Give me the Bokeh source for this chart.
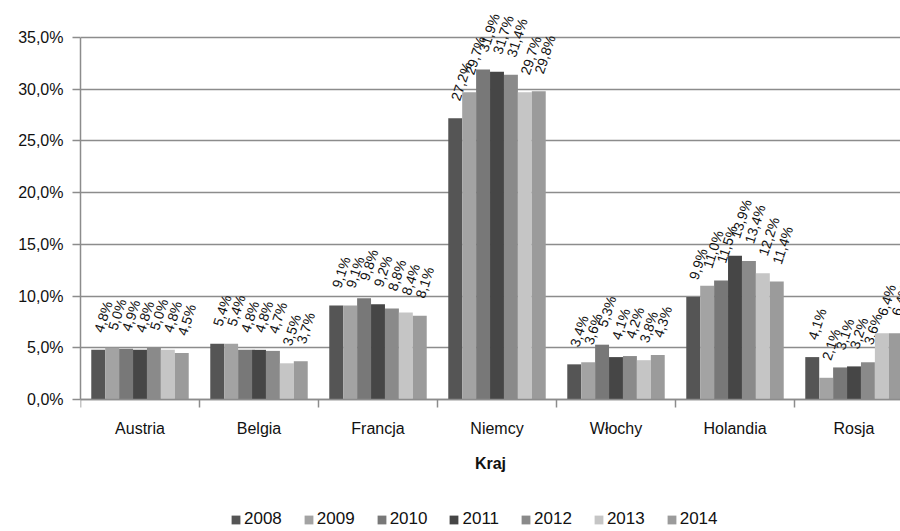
from bokeh.plotting import figure
from bokeh.models import ColumnDataSource, Range1d, FixedTicker, Legend, LegendItem, Span
from bokeh.embed import file_html
from bokeh.resources import INLINE
from bokeh.core.properties import value

# Share of exports by country and year (%)
countries = ["Austria", "Belgia", "Francja", "Niemcy", "Włochy", "Holandia", "Rosja"]
years = ["2008", "2009", "2010", "2011", "2012", "2013", "2014"]
share_2008 = [4.8, 5.4, 9.1, 27.2, 3.4, 9.9, 4.1]
share_2009 = [5.0, 5.4, 9.1, 29.7, 3.6, 11.0, 2.1]
share_2010 = [4.9, 4.8, 9.8, 31.9, 5.3, 11.5, 3.1]
share_2011 = [4.8, 4.8, 9.2, 31.7, 4.1, 13.9, 3.2]
share_2012 = [5.0, 4.7, 8.8, 31.4, 4.2, 13.4, 3.6]
share_2013 = [4.8, 3.5, 8.4, 29.7, 3.8, 12.2, 6.4]
share_2014 = [4.5, 3.7, 8.1, 29.8, 4.3, 11.4, 6.4]
series = [share_2008, share_2009, share_2010, share_2011, share_2012, share_2013, share_2014]
colors = ["#555555", "#a3a3a3", "#787878", "#464646", "#8a8a8a", "#c5c5c5", "#9b9b9b"]
y_ticks = [0, 5, 10, 15, 20, 25, 30, 35]

FONT = "Liberation Sans"
GRID = "#8c8c8c"
INK = "#111111"
BAR_W = 0.117

# vertical scale: 35 % spans 362 px; the frame also holds the category axis and legend
PX = 362 / 35
FRAME_H = 531
Y_TOP = 35 + 37 / PX
Y_BOT = Y_TOP - FRAME_H / PX

p = figure(frame_width=820, frame_height=FRAME_H,
           x_range=Range1d(0, 820 / 119), y_range=Range1d(Y_BOT, Y_TOP),
           min_border_left=80, min_border_right=0, min_border_top=0, min_border_bottom=0,
           x_axis_location=None, output_backend="svg", toolbar_location=None)
p.outline_line_color = None
p.background_fill_color = "white"

p.ygrid.ticker = FixedTicker(ticks=y_ticks)
p.ygrid.grid_line_color = GRID
p.ygrid.grid_line_width = 1.5
p.xgrid.visible = False

items = []
for i, (year, vals, col) in enumerate(zip(years, series, colors)):
    xs = [k + 0.5 + (i - 3) * BAR_W for k in range(len(countries))]
    labels = [f"{v:.1f}%".replace(".", ",") for v in vals]
    src = ColumnDataSource(dict(x=xs, top=vals, label=labels))
    r = p.vbar(x="x", top="top", bottom=0, width=BAR_W, source=src,
               fill_color=col, line_color=None)
    p.text(x="x", y="top", text="label", source=src, angle=72, angle_units="deg",
           text_align="left", text_baseline="middle", y_offset=-18,
           text_font=value(FONT), text_font_size="14px", text_color=INK)
    items.append(LegendItem(label=year, renderers=[r]))

# y axis
yax = p.yaxis[0]
yax.ticker = FixedTicker(ticks=y_ticks)
yax.bounds = (0, 35)
yax.major_label_overrides = {t: f"{t:.1f}%".replace(".", ",") for t in y_ticks}
yax.major_tick_out = 8
yax.major_tick_in = 0
yax.minor_tick_out = 0
yax.minor_tick_in = 0
yax.major_label_standoff = 9
yax.axis_line_color = GRID
yax.axis_line_width = 1.5
yax.major_tick_line_color = GRID
yax.major_tick_line_width = 1.5
yax.major_label_text_font = FONT
yax.major_label_text_font_size = "16px"
yax.major_label_text_color = INK

# category axis: baseline, ticks between groups, names and title
p.add_layout(Span(location=0, dimension="width", line_color=GRID, line_width=1.5))
bounds = list(range(len(countries) + 1))
p.segment(x0=bounds, y0=[0] * len(bounds), x1=bounds, y1=[-8 / PX] * len(bounds),
          line_color=GRID, line_width=1.5)
centres = [k + 0.5 for k in range(len(countries))]
p.text(x=centres, y=[0] * len(centres), text=countries, y_offset=29,
       text_align="center", text_baseline="middle",
       text_font=value(FONT), text_font_size="16px", text_color=INK)
p.text(x=[820 / 119 / 2], y=[0], text=["Kraj"], y_offset=64,
       text_align="center", text_baseline="middle", text_font=value(FONT),
       text_font_size="16px", text_font_style="bold", text_color=INK)

# legend row along the bottom
legend = Legend(items=items, orientation="horizontal", location=(150, 2),
                glyph_width=11, glyph_height=11, label_standoff=3, spacing=21,
                padding=0, margin=0, border_line_color=None, background_fill_alpha=0,
                label_text_font=FONT, label_text_font_size="17px", label_text_color=INK)
p.add_layout(legend, "center")

open("out.html", "w").write(file_html(p, INLINE))
